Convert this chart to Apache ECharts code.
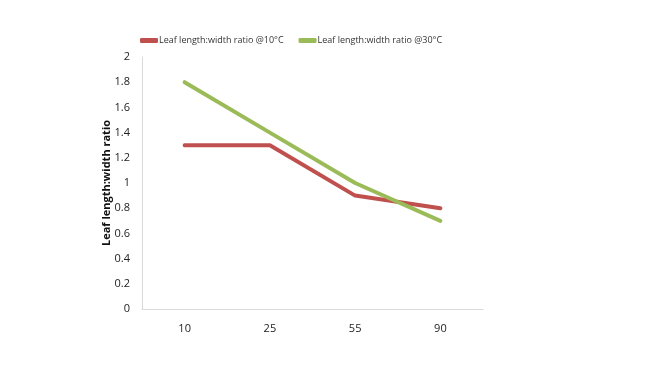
<!DOCTYPE html>
<html><head><meta charset="utf-8">
<script src="https://cdn.jsdelivr.net/npm/echarts@6/dist/echarts.min.js"></script>
<style>html,body{margin:0;padding:0;background:#fff}#c{width:650px;height:365px}</style>
</head><body><div id="c"></div>
<script>
const categories = ['10', '25', '55', '90'];
const ratio10C = [1.3, 1.3, 0.9, 0.8];
const ratio30C = [1.8, 1.4, 1.0, 0.7];
const seriesNames = ['Leaf length:width ratio @10°C', 'Leaf length:width ratio @30°C'];
const yAxisName = 'Leaf length:width ratio';

const chart = echarts.init(document.getElementById('c'), null, {renderer: 'canvas'});
const font = 'Open Sans';
chart.setOption({
  animation: false,
  backgroundColor: '#fff',
  legend: {
    left: 135, top: 31, itemGap: 15, itemWidth: 18, itemHeight: 5,
    icon: 'roundRect',
    textStyle: {fontFamily: font, fontSize: 9, color: '#333', padding: [0, 0, 0, -4]},
    data: seriesNames
  },
  grid: {left: 142, right: 167, top: 57, bottom: 56},
  xAxis: {
    type: 'category', data: categories, boundaryGap: true,
    axisLine: {lineStyle: {color: '#d9d9d9', width: 1}},
    axisTick: {show: false},
    axisLabel: {fontFamily: font, fontSize: 11, color: '#222', margin: 14}
  },
  yAxis: {
    type: 'value', min: 0, max: 2, interval: 0.2,
    name: yAxisName, nameLocation: 'middle', nameGap: 30, nameMoveOverlap: false,
    nameTextStyle: {fontFamily: font, fontSize: 11, fontWeight: 'bold', color: '#111'},
    axisLine: {show: true, lineStyle: {color: '#d9d9d9', width: 1}},
    axisTick: {show: false},
    splitLine: {show: false},
    axisLabel: {fontFamily: font, fontSize: 11, color: '#222', margin: 12,
      formatter: v => String(Math.round(v * 10) / 10)}
  },
  series: [
    {name: seriesNames[0], type: 'line', data: ratio10C, showSymbol: false, symbol: 'none',
     lineStyle: {color: '#c0504d', width: 4, cap: 'round'}, itemStyle: {color: '#c0504d'}},
    {name: seriesNames[1], type: 'line', data: ratio30C, showSymbol: false, symbol: 'none',
     lineStyle: {color: '#9bbb59', width: 4, cap: 'round'}, itemStyle: {color: '#9bbb59'}}
  ]
});
</script></body></html>
